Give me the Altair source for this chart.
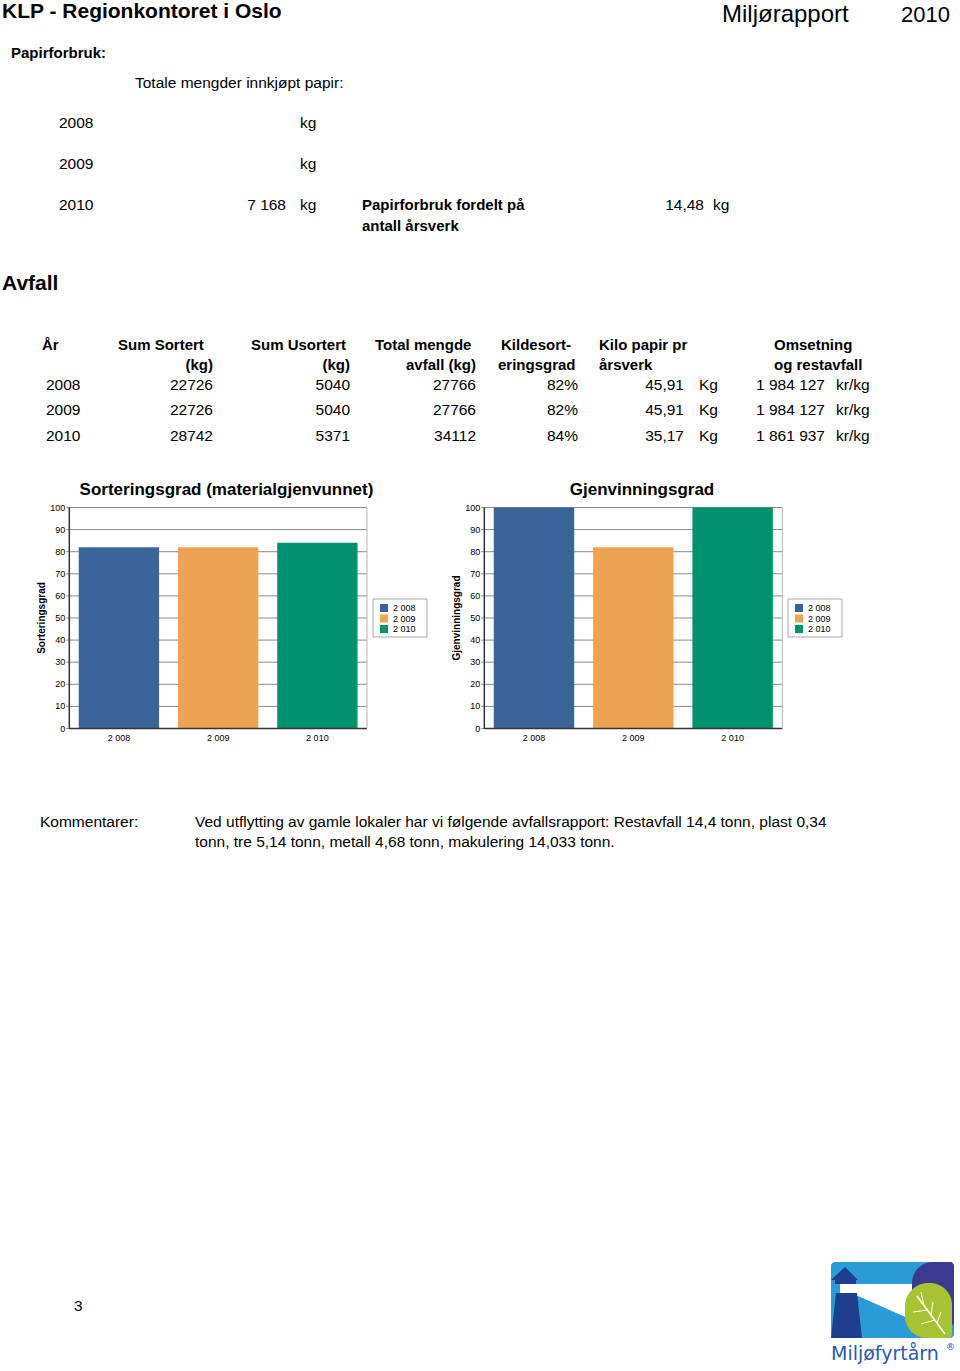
import altair as alt
import pandas as pd

FONT = "Liberation Sans, Arial, Helvetica, sans-serif"

# ---------------- data ----------------
PAPER_YEARS = ["2008", "2009", "2010"]
PAPER_KG = ["", "", "7 168"]
PAPER_PER_FTE = "14,48"

AVFALL_YEARS = ["2008", "2009", "2010"]
SUM_SORTERT = [22726, 22726, 28742]
SUM_USORTERT = [5040, 5040, 5371]
TOTAL_AVFALL = [27766, 27766, 34112]
KILDESORTERINGSGRAD = ["82%", "82%", "84%"]
KILO_PAPIR = ["45,91", "45,91", "35,17"]
OMSETNING = ["1 984 127", "1 984 127", "1 861 937"]

CHART_YEARS = ["2 008", "2 009", "2 010"]
SORTERINGSGRAD = [82, 82, 84]
GJENVINNINGSGRAD = [100, 82, 100]
Y_TICKS = [0, 10, 20, 30, 40, 50, 60, 70, 80, 90, 100]
BAR_COLORS = ["#3A6596", "#EEA352", "#00916E"]

COMMENT_LINES = [
    "Ved utflytting av gamle lokaler har vi følgende avfallsrapport: Restavfall 14,4 tonn, plast 0,34",
    "tonn, tre 5,14 tonn, metall 4,68 tonn, makulering 14,033 tonn.",
]

REG = 15.5  # regular body text size


# ---------------- helpers ----------------
def text_layer(items, size, weight="normal", align="left", color="#000000",
               baseline="alphabetic", angle=0, font=FONT):
    df = pd.DataFrame(items, columns=["x", "y", "t"])
    return alt.Chart(df).mark_text(
        font=font, fontSize=size, fontWeight=weight, align=align,
        baseline=baseline, color=color, angle=angle
    ).encode(
        x=alt.X("x:Q", scale=None, axis=None),
        y=alt.Y("y:Q", scale=None, axis=None),
        text="t:N",
    )


ONE = pd.DataFrame({"d": [0]})


def value_rect(x, x2, y, y2, **kw):
    return alt.Chart(ONE).mark_rect(**kw).encode(
        x=alt.value(x), x2=alt.value(x2), y=alt.value(y), y2=alt.value(y2))


def value_line(x, y, x2, y2, **kw):
    return alt.Chart(ONE).mark_rule(**kw).encode(
        x=alt.value(x), y=alt.value(y), x2=alt.value(x2), y2=alt.value(y2))


def bar_panel(values, title, title_x, ytitle, x0, x1, ytop, ybot, lx, ly):
    ys = alt.Scale(domain=[0, 100], range=[ybot, ytop], nice=False, zero=True)
    xs = alt.Scale(domain=CHART_YEARS, range=[x0, x1],
                   paddingInner=0.19, paddingOuter=0.095)
    cs = alt.Scale(domain=CHART_YEARS, range=BAR_COLORS)
    df = pd.DataFrame({"year": CHART_YEARS, "v": values})
    ticks = pd.DataFrame({"v": Y_TICKS})

    grid = alt.Chart(ticks).mark_rule(color="#8a8a8a", strokeWidth=1).encode(
        y=alt.Y("v:Q", scale=ys, axis=None),
        x=alt.value(x0 - 3), x2=alt.value(x1))
    bars = alt.Chart(df).mark_bar().encode(
        x=alt.X("year:N", scale=xs, axis=None),
        y=alt.Y("v:Q", scale=ys, axis=None),
        color=alt.Color("year:N", scale=cs, legend=None))
    left_axis = alt.Chart(ONE).mark_rule(color="#333333", strokeWidth=1.5).encode(
        x=alt.value(x0), y=alt.value(ytop), y2=alt.value(ybot))
    bottom_axis = alt.Chart(ONE).mark_rule(color="#333333", strokeWidth=1.5).encode(
        y=alt.value(ybot), x=alt.value(x0), x2=alt.value(x1))
    right_border = alt.Chart(ONE).mark_rule(color="#b5b5b5", strokeWidth=1).encode(
        x=alt.value(x1), y=alt.value(ytop), y2=alt.value(ybot))
    ylabels = alt.Chart(ticks).mark_text(
        font=FONT, fontSize=9, align="right", baseline="middle", color="#000"
    ).encode(y=alt.Y("v:Q", scale=ys, axis=None), x=alt.value(x0 - 4), text="v:Q")
    xlabels = alt.Chart(df).mark_text(
        font=FONT, fontSize=9, align="center", baseline="alphabetic", color="#000"
    ).encode(x=alt.X("year:N", scale=xs, axis=None), y=alt.value(ybot + 12), text="year:N")
    ttl = text_layer([(title_x, ytop - 13, title)], 17, weight="bold", align="center")
    ytl = text_layer([(x0 - 27, (ytop + ybot) / 2, ytitle)], 10, weight="bold",
                     align="center", baseline="middle", angle=270)

    # legend
    box = value_rect(lx, lx + 54, ly, ly + 38, fill="white", stroke="#a8a8a8", strokeWidth=1)
    leg = pd.DataFrame({"year": CHART_YEARS,
                        "x": [lx + 7] * 3,
                        "y": [ly + 5 + 10.5 * i for i in range(3)]})
    leg["x2"] = leg["x"] + 8
    leg["y2"] = leg["y"] + 8
    leg["tx"] = leg["x"] + 13
    leg["ty"] = leg["y"] + 4
    sw = alt.Chart(leg).mark_rect().encode(
        x=alt.X("x:Q", scale=None, axis=None), x2="x2:Q",
        y=alt.Y("y:Q", scale=None, axis=None), y2="y2:Q",
        color=alt.Color("year:N", scale=cs, legend=None))
    lt = alt.Chart(leg).mark_text(
        font=FONT, fontSize=9, align="left", baseline="middle", color="#000"
    ).encode(x=alt.X("tx:Q", scale=None, axis=None),
             y=alt.Y("ty:Q", scale=None, axis=None), text="year:N")
    return [grid, bars, left_axis, bottom_axis, right_border, ylabels, xlabels,
            ttl, ytl, box, sw, lt]


layers = []

# ---------------- header ----------------
layers.append(text_layer([(2, 18, "KLP - Regionkontoret i Oslo")], 21, weight="bold"))
layers.append(text_layer([(722, 22, "Miljørapport")], 24))
layers.append(text_layer([(950, 22, "2010")], 22, align="right"))

# ---------------- papirforbruk ----------------
layers.append(text_layer([(11, 58, "Papirforbruk:")], 15, weight="bold"))
paper_rows_y = [128, 169, 210]
reg = [(135, 88, "Totale mengder innkjøpt papir:")]
for yr, yy in zip(PAPER_YEARS, paper_rows_y):
    reg.append((59, yy, yr))
    reg.append((300, yy, "kg"))
reg.append((713, 210, "kg"))
right_reg = [(286, yy, kgv) for kgv, yy in zip(PAPER_KG, paper_rows_y) if kgv]
right_reg.append((704, 210, PAPER_PER_FTE))

layers.append(text_layer([(362, 210, "Papirforbruk fordelt på"),
                          (362, 231, "antall årsverk")], 15, weight="bold"))

# ---------------- avfall table ----------------
layers.append(text_layer([(2, 290, "Avfall")], 21, weight="bold"))
hdr_left = [(42, 350, "År"), (118, 350, "Sum Sortert"), (251, 350, "Sum Usortert"),
            (375, 350, "Total mengde"), (501, 350, "Kildesort-"), (498, 370, "eringsgrad"),
            (599, 350, "Kilo papir pr"), (599, 370, "årsverk"),
            (774, 350, "Omsetning"), (774, 370, "og restavfall")]
hdr_right = [(213, 370, "(kg)"), (350, 370, "(kg)"), (476, 370, "avfall (kg)")]
layers.append(text_layer(hdr_left, 15, weight="bold"))
layers.append(text_layer(hdr_right, 15, weight="bold", align="right"))

row_y = [390, 415, 441]
for i, yy in enumerate(row_y):
    reg.append((46, yy, AVFALL_YEARS[i]))
    reg.append((699, yy, "Kg"))
    reg.append((836, yy, "kr/kg"))
    right_reg.append((213, yy, str(SUM_SORTERT[i])))
    right_reg.append((350, yy, str(SUM_USORTERT[i])))
    right_reg.append((476, yy, str(TOTAL_AVFALL[i])))
    right_reg.append((578, yy, KILDESORTERINGSGRAD[i]))
    right_reg.append((684, yy, KILO_PAPIR[i]))
    right_reg.append((825, yy, OMSETNING[i]))

# ---------------- comments & page number ----------------
reg += [(40, 827, "Kommentarer:"),
        (195, 827, COMMENT_LINES[0]),
        (195, 847, COMMENT_LINES[1]),
        (74, 1311, "3")]
layers.append(text_layer(reg, REG))
layers.append(text_layer(right_reg, REG, align="right"))

# ---------------- charts ----------------
layers += bar_panel(SORTERINGSGRAD, "Sorteringsgrad (materialgjenvunnet)", 226.5,
                    "Sorteringsgrad", 69.3, 367, 507.5, 728.5, 373, 599)
layers += bar_panel(GJENVINNINGSGRAD, "Gjenvinningsgrad", 642,
                    "Gjenvinningsgrad", 484.3, 782.3, 507.5, 728.5, 788, 599)

# ---------------- logo (decorative) ----------------
NAVY = "#1E3E8E"
layers.append(value_rect(831, 954, 1262, 1338, fill="#2A9BD6", cornerRadius=4))
layers.append(alt.Chart(ONE).mark_rect(
    fill="#3B3A8E", cornerRadiusTopLeft=38, cornerRadiusTopRight=4,
    cornerRadiusBottomRight=4).encode(
    x=alt.value(912), x2=alt.value(954), y=alt.value(1262), y2=alt.value(1326)))
beam = pd.DataFrame({"x": [840, 858, 912], "y": [1284, 1284, 1284], "y2": [1293, 1296, 1320]})
layers.append(alt.Chart(beam).mark_area(color="white", opacity=1).encode(
    x=alt.X("x:Q", scale=None, axis=None),
    y=alt.Y("y:Q", scale=None, axis=None), y2="y2:Q"))
layers.append(alt.Chart(ONE).mark_rect(
    fill="#A6C431", cornerRadiusTopLeft=26, cornerRadiusTopRight=22,
    cornerRadiusBottomLeft=22, cornerRadiusBottomRight=3).encode(
    x=alt.value(905), x2=alt.value(952), y=alt.value(1283), y2=alt.value(1338)))
layers.append(value_line(917, 1296, 945, 1334, color="white", strokeWidth=1.5))
layers.append(value_line(924, 1306, 921, 1292, color="white", strokeWidth=1))
layers.append(value_line(931, 1315, 933, 1302, color="white", strokeWidth=1))
layers.append(value_line(937, 1323, 941, 1312, color="white", strokeWidth=1))
layers.append(value_line(927, 1310, 913, 1312, color="white", strokeWidth=1))
layers.append(value_line(935, 1320, 921, 1324, color="white", strokeWidth=1))
tower = pd.DataFrame({"x": [833, 862], "y": [1296, 1296], "y2": [1338, 1338]})
layers.append(value_rect(836, 857, 1293, 1338, fill=NAVY))
layers.append(alt.Chart(pd.DataFrame({"x": [831, 836], "y": [1338, 1338], "y2": [1338, 1293]}))
              .mark_area(color=NAVY, opacity=1).encode(
    x=alt.X("x:Q", scale=None, axis=None), y=alt.Y("y:Q", scale=None, axis=None), y2="y2:Q"))
layers.append(alt.Chart(pd.DataFrame({"x": [857, 862], "y": [1293, 1338], "y2": [1338, 1338]}))
              .mark_area(color=NAVY, opacity=1).encode(
    x=alt.X("x:Q", scale=None, axis=None), y=alt.Y("y:Q", scale=None, axis=None), y2="y2:Q"))
layers.append(value_rect(835, 856, 1279, 1284, fill=NAVY))
layers.append(alt.Chart(pd.DataFrame({"x": [831, 845, 858], "y": [1280, 1267, 1280],
                                      "y2": [1280, 1280, 1280]}))
              .mark_area(color=NAVY, opacity=1).encode(
    x=alt.X("x:Q", scale=None, axis=None), y=alt.Y("y:Q", scale=None, axis=None), y2="y2:Q"))
layers.append(text_layer([(831, 1360, "Miljøfyrtårn")], 19, color="#2B5BA8",
                         font="DejaVu Sans"))
layers.append(text_layer([(946, 1350, "®")], 9, color="#2B5BA8", font="DejaVu Sans"))

chart = alt.layer(*layers).resolve_scale(
    x="independent", y="independent"
).properties(
    width=960, height=1371, padding=0,
    autosize=alt.AutoSizeParams(type="none"),
    background="white",
).configure_view(stroke=None)

chart.save("out.html", embed_options={"renderer": "svg", "actions": False})
